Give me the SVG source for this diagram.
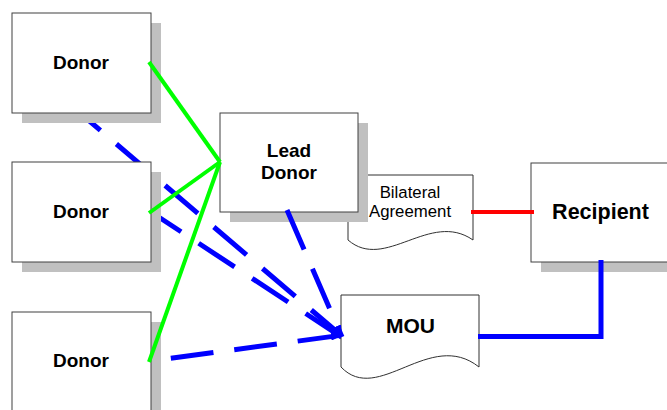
<svg xmlns="http://www.w3.org/2000/svg" width="667" height="410" viewBox="0 0 667 410">
<style>
.shadow{fill:#c0c0c0}
.box{fill:#fff;stroke:#404040;stroke-width:1}
.doc{fill:#fff;stroke:#303030;stroke-width:1}
.lbl{font-family:"Liberation Sans",Arial,sans-serif;font-weight:bold;fill:#000;text-anchor:middle}
.sm{font-family:"Liberation Sans",Arial,sans-serif;fill:#000;text-anchor:middle;font-size:16.8px}
.dash{fill:none;stroke:#0000ff;stroke-width:5;stroke-dasharray:43 21}
.green{fill:none;stroke:#00ff00;stroke-width:4}
</style>
<defs>
<marker id="arr" markerUnits="userSpaceOnUse" markerWidth="12" markerHeight="8" viewBox="0 0 12 8" refX="12" refY="4" orient="auto">
<path d="M0,0 L12,4 L0,8 z" fill="#0000ff"/>
</marker>
</defs>
<rect width="667" height="410" fill="#fff"/>
<g id="connectors-back">
<line class="dash" x1="80" y1="113" x2="343" y2="337" stroke-dashoffset="16.2" marker-end="url(#arr)"/>
<line class="dash" x1="151" y1="212" x2="343" y2="338" stroke-dashoffset="7" marker-end="url(#arr)"/>
</g>
<g id="donor1">
<rect class="shadow" x="22" y="23" width="139" height="100"/>
<rect class="box" x="12" y="13" width="139" height="100"/>
<text class="lbl" x="81" y="69" font-size="19">Donor</text>
</g>
<g id="donor2">
<rect class="shadow" x="22" y="172" width="139" height="100"/>
<rect class="box" x="12" y="162" width="139" height="100"/>
<text class="lbl" x="81" y="218" font-size="19">Donor</text>
</g>
<g id="donor3">
<rect class="shadow" x="22" y="322" width="139" height="100"/>
<rect class="box" x="12" y="312" width="139" height="110"/>
<text class="lbl" x="81" y="367" font-size="19">Donor</text>
</g>
<g id="bilateral">
<path class="doc" d="M348,175 H473 V240 C430,210 385,272 348,240 Z"/>
<text class="sm" x="410" y="198">Bilateral</text>
<text class="sm" x="410" y="217">Agreement</text>
</g>
<g id="lead-donor">
<rect class="shadow" x="230" y="123" width="138" height="99"/>
<rect class="box" x="220" y="113" width="138" height="99"/>
<text class="lbl" x="289" y="157" font-size="19">Lead</text>
<text class="lbl" x="289" y="179" font-size="19">Donor</text>
</g>
<g id="recipient">
<rect class="shadow" x="541" y="173" width="140" height="99"/>
<rect class="box" x="531" y="163" width="150" height="99"/>
<text class="lbl" x="600.5" y="219" font-size="21.5">Recipient</text>
</g>
<g id="mou">
<path class="doc" d="M341,295 H479 V367 C430,328 378,406 341,367 Z"/>
<text class="lbl" x="410.5" y="333" font-size="21">MOU</text>
</g>
<g id="connectors">
<line class="green" x1="149" y1="62" x2="220" y2="162"/>
<line class="green" x1="149" y1="213" x2="220" y2="162"/>
<line class="green" x1="149" y1="362" x2="220" y2="162"/>
<line class="dash" x1="287" y1="210" x2="342" y2="337" stroke-dashoffset="0" marker-end="url(#arr)"/>
<line class="dash" x1="151" y1="361" x2="343" y2="335" stroke-dashoffset="44" marker-end="url(#arr)"/>
<line x1="471" y1="212" x2="534" y2="212" stroke="#ff0000" stroke-width="4"/>
<polyline points="478,336.5 601,336.5 601,260" fill="none" stroke="#0000ff" stroke-width="5"/>
</g>
</svg>
